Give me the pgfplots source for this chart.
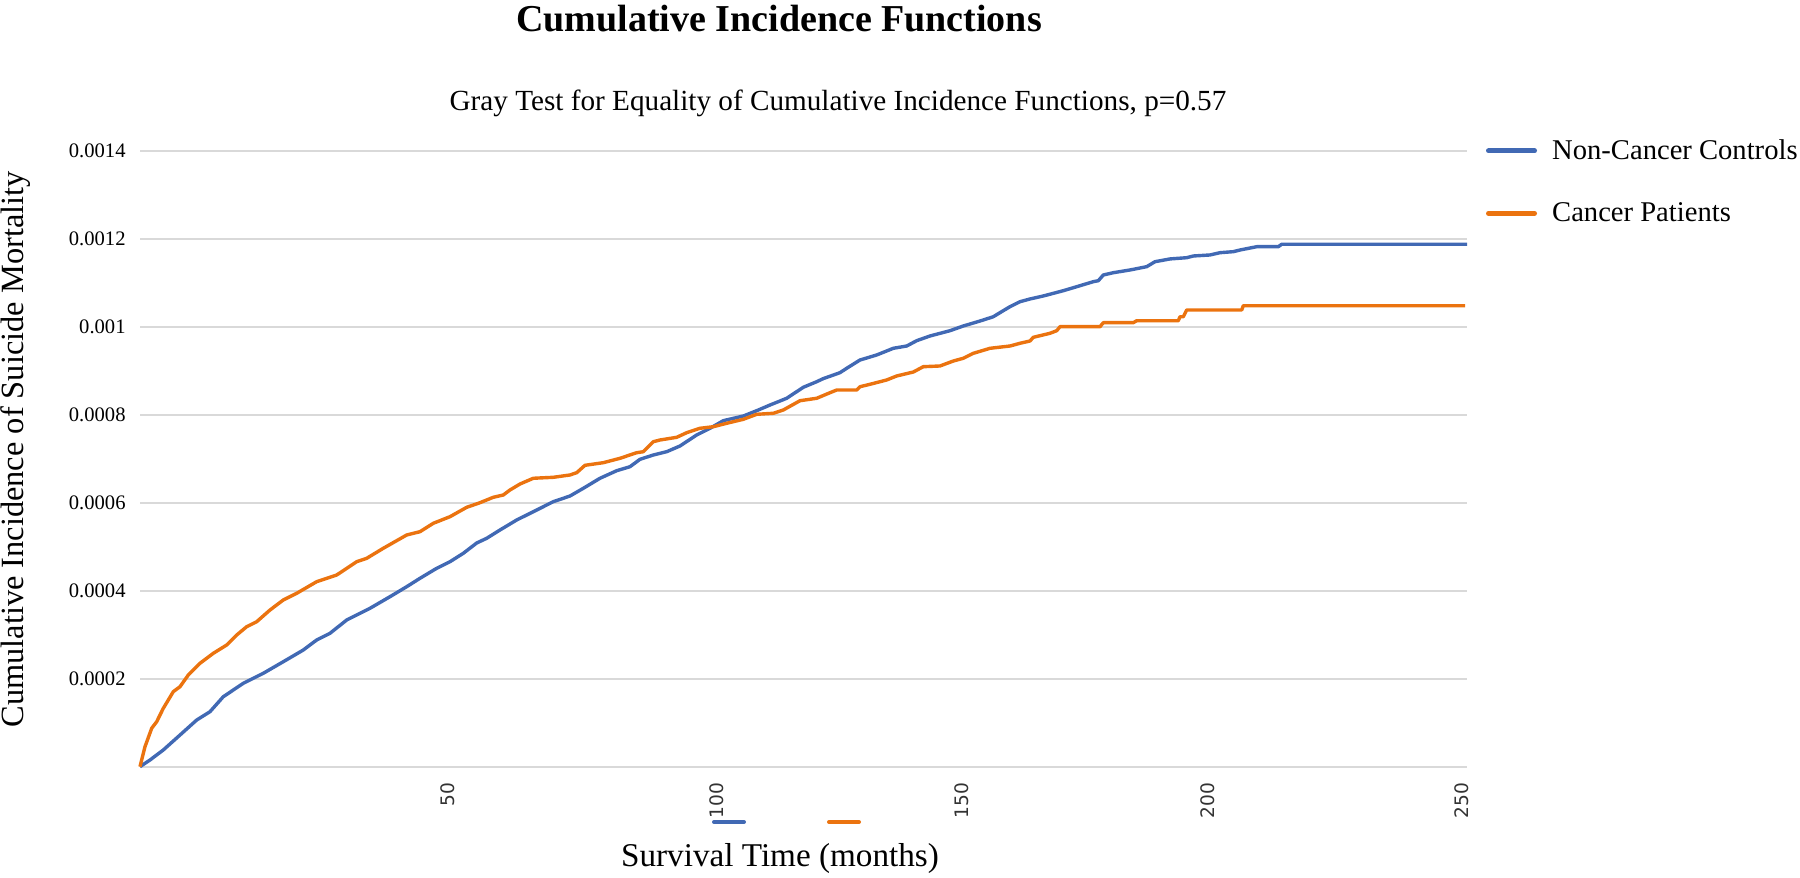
\documentclass[border=0pt]{standalone}
\usepackage{fontspec}
\setmainfont{Liberation Serif}
\newfontfamily\tickfont{DejaVu Sans}
\usepackage{pgfplots}
\pgfplotsset{compat=1.18}
\usepackage{pgfplotstable}
\definecolor{cblue}{RGB}{65,105,180}
\definecolor{corange}{RGB}{235,115,15}
\definecolor{gridgray}{RGB}{217,217,217}

% x = horizontal position on the (non-linear, category-like) time axis
\pgfplotstableread{
x y
140 0
150 0.0000152
163.3 0.000038
180 0.000072
196.7 0.0001061
210 0.000125
223.3 0.0001591
243.3 0.0001895
263.3 0.0002123
283.3 0.0002386
303.3 0.0002652
316.7 0.000288
330 0.0003032
346.7 0.0003334
370 0.00036
390 0.0003864
406.7 0.0004091
420 0.0004282
436.7 0.0004509
450 0.0004659
463.3 0.000485
476.7 0.0005084
486.7 0.0005191
500 0.000538
516.7 0.0005607
533.3 0.0005795
553.3 0.0006023
570 0.0006152
583.3 0.0006327
600 0.0006555
616.7 0.0006727
630 0.0006818
640 0.0006986
653.3 0.0007084
666.7 0.0007159
680 0.0007289
696.7 0.0007539
710 0.0007691
723.3 0.0007864
743.3 0.000797
756.7 0.0008091
770 0.000822
786.7 0.0008373
803.3 0.0008623
816.7 0.000875
823.3 0.000882
840 0.0008955
846.7 0.0009055
860 0.0009243
876.7 0.0009357
893.3 0.0009509
906.7 0.0009561
916.7 0.0009682
930 0.0009789
950 0.0009909
963.3 0.0010016
970 0.0010061
983.3 0.0010152
993.3 0.0010227
1003.3 0.0010364
1010 0.0010455
1020 0.0010568
1030 0.001063
1043.3 0.0010698
1063.3 0.0010818
1076.7 0.0010909
1093.3 0.0011023
1098.3 0.0011045
1103.3 0.0011175
1113.3 0.0011227
1130 0.0011289
1146.7 0.0011364
1155 0.0011477
1170 0.001154
1186.7 0.0011568
1193.3 0.0011607
1210 0.001163
1220 0.0011682
1233.3 0.0011705
1240 0.0011743
1256.7 0.0011818
1278.3 0.0011818
1281.7 0.0011873
1467 0.0011873
}\controls

\pgfplotstableread{
x y
140 0
145 0.0000455
151.7 0.0000873
156.7 0.0001023
163.3 0.0001327
173.3 0.0001705
180 0.0001818
188.3 0.0002084
200 0.000235
213.3 0.0002577
226.7 0.0002766
236.7 0.0002993
246.7 0.0003182
256.7 0.0003295
270 0.0003561
283.3 0.0003789
296.7 0.0003941
316.7 0.0004205
336.7 0.0004357
356.7 0.0004659
366.7 0.0004736
383.3 0.0004964
406.7 0.0005266
420 0.0005341
433.3 0.0005532
450 0.0005682
466.7 0.0005895
480 0.0006
493.3 0.0006123
503.3 0.0006175
510 0.0006289
520 0.0006425
533.3 0.0006555
553.3 0.0006577
570 0.000663
576.7 0.0006682
585 0.000685
603.3 0.0006909
620 0.0007009
636.7 0.0007136
643.3 0.0007159
653.3 0.0007386
660 0.0007425
676.7 0.0007486
686.7 0.0007591
700 0.0007691
713.3 0.0007727
726.7 0.0007805
743.3 0.0007895
756.7 0.0008009
773.3 0.0008032
783.3 0.0008107
800 0.0008318
816.7 0.0008373
830 0.00085
836.7 0.0008561
856.7 0.0008561
860 0.0008636
870 0.0008691
886.7 0.0008789
896.7 0.000888
913.3 0.000897
923.3 0.0009091
940 0.0009107
953.3 0.000922
963.3 0.0009282
973.3 0.0009395
990 0.0009509
1010 0.0009561
1020 0.0009623
1030 0.0009675
1033.3 0.0009759
1050 0.000985
1056.7 0.0009909
1060 0.001
1100 0.001
1103.3 0.0010091
1133.3 0.0010091
1136.7 0.0010136
1178.3 0.0010136
1180 0.0010227
1183.3 0.0010227
1186.7 0.001038
1241.7 0.001038
1243.3 0.0010477
1465 0.0010477
}\patients

\begin{document}
\begin{tikzpicture}
\useasboundingbox (0,0) rectangle (900pt,439pt);
\begin{axis}[
  at={(70pt,55.65pt)}, anchor=south west,
  scale only axis, width=663.5pt, height=308pt,
  xmin=140, xmax=1467, ymin=0, ymax=0.0014,
  clip=false,
  axis line style={draw=none},
  major tick length=0pt,
  xtick={448,717,962,1208,1462},
  xticklabels={50,100,150,200,250},
  xticklabel style={font=\tickfont\fontsize{9.3}{10}\selectfont, text=black!80, rotate=90, anchor=east, inner sep=0pt},
  xticklabel shift=8pt,
  ytick={0,0.0002,0.0004,0.0006,0.0008,0.001,0.0012,0.0014},
  yticklabels={,0.0002,0.0004,0.0006,0.0008,0.001,0.0012,0.0014},
  yticklabel style={font=\fontsize{10.3}{12}\selectfont, anchor=east, inner sep=0pt},
  yticklabel shift=7pt,
  scaled y ticks=false,
  ymajorgrids, grid style={gridgray, line width=1pt},
  legend style={draw=none, fill=none, at={(rel axis cs:1,1)}, anchor=north west,
    xshift=9.5pt, yshift=5.6pt, inner sep=0pt, outer sep=0pt,
    row sep=20pt, column sep=7.6pt, font=\fontsize{14.3}{17}\selectfont,
    nodes={inner sep=0pt}},
  legend cell align=left,
  legend image code/.code={\draw[#1, line width=2.5pt, line cap=round] (0pt,0pt) -- (23pt,0pt);},
]
\addplot[cblue, line width=1.7pt, line join=round] table[x=x, y=y] {\controls};
\addlegendentry{Non-Cancer Controls}
\addplot[corange, line width=1.7pt, line join=round] table[x=x, y=y] {\patients};
\addlegendentry{Cancer Patients}
\end{axis}
\node[anchor=base, font=\bfseries\fontsize{19}{23}\selectfont] at (389.5pt,423pt) {Cumulative Incidence Functions};
\node[anchor=base, font=\fontsize{14.6}{17}\selectfont] at (419pt,383.5pt) {Gray Test for Equality of Cumulative Incidence Functions, p=0.57};
\node[anchor=base, rotate=90, font=\fontsize{16.2}{19}\selectfont] at (11.75pt,214.25pt) {Cumulative Incidence of Suicide Mortality};
\node[anchor=base, font=\fontsize{16.6}{19}\selectfont] at (390pt,5.65pt) {Survival Time (months)};
\draw[cblue, line width=2pt, line cap=round] (357pt,28pt) -- (372pt,28pt);
\draw[corange, line width=2pt, line cap=round] (414.5pt,28pt) -- (429.5pt,28pt);
\end{tikzpicture}
\end{document}
